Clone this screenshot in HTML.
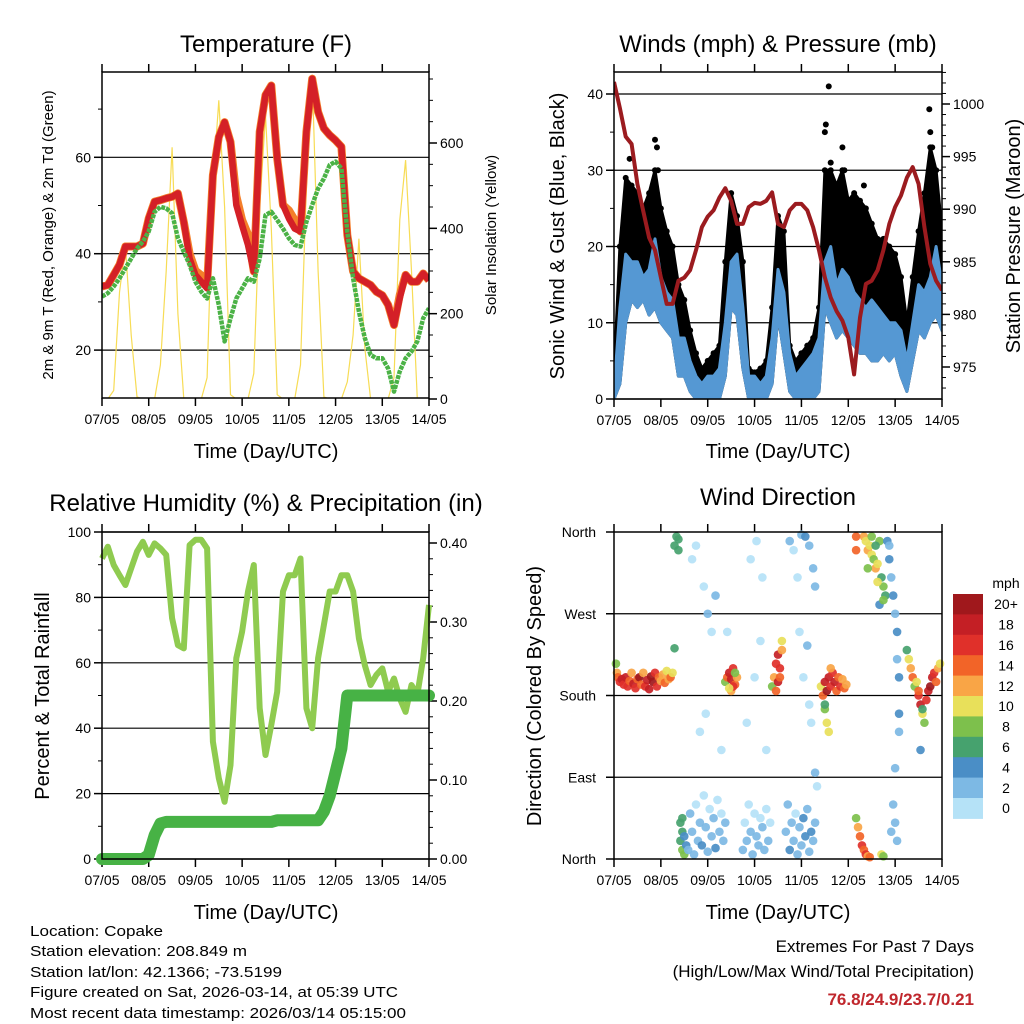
<!DOCTYPE html>
<html><head><meta charset="utf-8">
<style>
html,body{margin:0;padding:0;background:#fff;}
svg{display:block;font-family:"Liberation Sans",Arial,sans-serif;}
</style></head>
<body>
<svg id="chart" width="1024" height="1024" viewBox="0 0 1024 1024" xmlns="http://www.w3.org/2000/svg">
<rect width="1024" height="1024" fill="#fff"/>
<g id="static" font-family="Liberation Sans, Arial, sans-serif" fill="#000">
  <text x="266" y="52" font-size="24" text-anchor="middle">Temperature (F)</text>
  <text x="778" y="52" font-size="24" text-anchor="middle">Winds (mph) &amp; Pressure (mb)</text>
  <text x="266" y="511" font-size="24" text-anchor="middle">Relative Humidity (%) &amp; Precipitation (in)</text>
  <text x="778" y="505" font-size="24" text-anchor="middle">Wind Direction</text>

  <text x="266" y="458" font-size="20" text-anchor="middle">Time (Day/UTC)</text>
  <text x="778" y="458" font-size="20" text-anchor="middle">Time (Day/UTC)</text>
  <text x="266" y="919" font-size="20" text-anchor="middle">Time (Day/UTC)</text>
  <text x="778" y="919" font-size="20" text-anchor="middle">Time (Day/UTC)</text>

  <text transform="translate(53,235) rotate(-90)" font-size="15" text-anchor="middle">2m &amp; 9m T (Red, Orange) &amp; 2m Td (Green)</text>
  <text transform="translate(496,235) rotate(-90)" font-size="15" text-anchor="middle">Solar Insolation (Yellow)</text>
  <text transform="translate(564,236) rotate(-90)" font-size="20" text-anchor="middle">Sonic Wind &amp; Gust (Blue, Black)</text>
  <text transform="translate(1020,236) rotate(-90)" font-size="20" text-anchor="middle">Station Pressure (Maroon)</text>
  <text transform="translate(49,696) rotate(-90)" font-size="20" text-anchor="middle">Percent &amp; Total Rainfall</text>
  <text transform="translate(541,696) rotate(-90)" font-size="20" text-anchor="middle">Direction (Colored By Speed)</text>

  <g font-size="15">
    <text x="30" y="936" textLength="133" lengthAdjust="spacingAndGlyphs">Location: Copake</text>
    <text x="30" y="956" textLength="217" lengthAdjust="spacingAndGlyphs">Station elevation: 208.849 m</text>
    <text x="30" y="977" textLength="252" lengthAdjust="spacingAndGlyphs">Station lat/lon: 42.1366; -73.5199</text>
    <text x="30" y="997" textLength="368" lengthAdjust="spacingAndGlyphs">Figure created on Sat, 2026-03-14, at 05:39 UTC</text>
    <text x="30" y="1018" textLength="376" lengthAdjust="spacingAndGlyphs">Most recent data timestamp: 2026/03/14 05:15:00</text>
  </g>
  <g font-size="17" text-anchor="end">
    <text x="974" y="952">Extremes For Past 7 Days</text>
    <text x="974" y="977">(High/Low/Max Wind/Total Precipitation)</text>
    <text x="974" y="1005" fill="#c0272d" font-weight="bold">76.8/24.9/23.7/0.21</text>
  </g>
</g>
<g id="dyn"></g>
</svg>
<script>
// ---------- DATA (3-hourly, hours 0..168) ----------
const dayLabels = ["07/05","08/05","09/05","10/05","11/05","12/05","13/05","14/05"];
const tempRed = [33.2,33.5,35.6,37.7,41.5,41.5,41.5,42.1,47.3,50.8,51.1,51.5,51.8,52.5,46.6,39,35.6,34.2,32.8,56.3,64.2,67.3,63.2,50.1,45.9,41.8,36.3,65.3,72.9,74.9,59.8,50.1,47.3,45.2,44.6,65.3,76.3,69.4,66,64.6,63.5,62.2,43.9,36.3,34.9,34.2,33.5,32.1,31.4,29.4,25.2,30.8,35.6,34.2,34.2,35.9,34.5];
const tempOrange = [33.2,33.5,35.6,37.7,41.5,41.5,41.5,42.1,47.3,50.8,51.1,51.5,51.8,52.5,46.6,40,36.5,35.5,33.5,56.3,64.2,67.3,63.2,52,47,44,36.3,65.3,72.9,74.9,59.8,50.1,49,47,44.6,65.3,76.3,69.4,66,64.6,63.5,62.2,43.9,36.3,34.9,34.2,33.5,32.1,31.4,29.4,25.2,31.5,35.6,34.2,34.2,35.9,34.5];
const dewPoint = [31.1,31.8,33.2,34.9,37,39,41.1,42.5,44.6,48.7,49.7,49.4,48.4,43.2,40.4,37.7,34.2,32.1,30.7,34.9,29.4,21.8,26.6,30.7,32.8,34.9,34.2,39,48,48.7,47,45.2,43.2,41.8,41.5,46.6,50.1,53.5,55.6,58.4,59.1,57.7,44.6,34.9,28,22.5,19,18.3,18.3,16.2,11.4,15.6,18.3,19.7,21.8,26.6,28.7];
const solar = [0,0,20,250,360,150,5,0,0,0,80,300,590,200,0,0,0,0,50,500,700,450,10,0,0,0,60,450,665,400,10,0,0,0,80,500,760,300,5,0,0,0,40,150,376,120,0,0,0,0,50,420,560,300,0,0,0];
const windHi = [1,12,19,18,18,16,17,21,16,14,13,8,8,5,3,2,3,3,4,10,18,19,12,3,3,2,3,8,17,14,6,3,4,5,6,8,18,20,15,17,16,14,13,12,13,12,11,10,10,9,5,10,15,14,16,20,15];
const windLo = [0,2,10,13,12,13,11,12,10,9,8,3,3,1,0,0,0,0,0,3,12,11,4,0,0,0,0,2,11,6,1,0,0,0,0,1,12,10,8,9,8,7,6,6,5,5,6,5,6,3,1,5,9,8,10,11,9];
const gustHi = [3,20,29,28,27,25,27,30,25,22,20,15,13,9,6,4,5,6,7,18,27,24,18,4,3.5,4,5,12,24,22,7,5,6,7,8,12,30,30,28,30,26,27,26,25,23,21,21,20,19,16,10,16,22,27,33,30,22];
const gustOutHours = [8,21,22,22.5,108.5,108,110,111,117,118,128,161.5,162,163];
const gustOutVals = [31.5,34,33,30,36,35,41,31,33,30,28,38,35,33];
const pressure = [1002.1,999.6,996.9,996.2,992.4,989.8,987.3,986.1,983.5,981,981,983.2,983.5,984.2,986.1,988.3,989.3,989.9,991.1,992,990.8,988.6,988.6,990.2,990.6,990.5,990.8,991.6,988.6,988.3,989.9,990.5,990.5,989.9,988.3,986.1,983.5,981.6,980.3,979.4,977.8,974.3,979.7,982.9,983.2,984.2,986.1,988.6,990.2,991.3,993,994,992.4,988.3,984.8,983.2,982.3];
const relHum = [91.9,95.5,89.9,86.8,83.8,88.9,94,97,93,96.5,95,93,73.6,65.4,64.4,96,97.6,97.6,95,35.9,24.7,17.5,28.7,61.4,69.5,81.8,89.9,46.1,31.8,41,51.2,81.8,86.8,86.8,91.9,46.1,40,61.4,71.6,81.8,81.8,86.8,86.8,81.8,67.5,59.3,53.2,56.3,58.3,51.2,55.2,49.1,45,53.2,50.2,61.4,77.7];
const precip = [0,0,0,0,0,0,0,0,0.005,0.03,0.045,0.047,0.047,0.047,0.047,0.047,0.047,0.047,0.047,0.047,0.047,0.047,0.047,0.047,0.047,0.047,0.047,0.047,0.047,0.047,0.049,0.049,0.049,0.049,0.049,0.049,0.049,0.049,0.06,0.08,0.11,0.14,0.207,0.207,0.207,0.207,0.207,0.207,0.207,0.207,0.207,0.207,0.207,0.207,0.207,0.207,0.207];
// wind direction scatter
const dirHours = [1,1.5,2,3,4,5,6,7,8,9,10,11,12,13,14,15,16,17,18,19,20,21,22,23,24,25,26,27,28,29,30,
 31,31,33,32,33, 34,35,35,36,34,36,37,35,
 38,39,40,41,42,43,44,45,46,47,48,49,50,51,52,53,54,55,56,57, 40,42,46,48,50,55,44,52,58,47,
 57,58,59,60,61,62,63,60,61,59,62,
 66,67,68,69,70,71,72,73,74,75,76,77,78,79,80, 70,73,76,72,75,68,78,
 81,82,83,84,85,86,84,83,85,86,
 88,89,90,91,92,93,94,95,96,97,98,99,100,101,102,103, 90,92,94,96,98,100,102,103,95,97,100,99,101,103,104,
 106,107,108,109,110,111,112,113,114,115,116,117,118,119, 108,109,110,108,111,
 124,125,126,127,128,129,130,131,137,138,
 128,129,130,131,132,133,134,135,136,137,138,139,136,138,134,132,124,124,130,135,
 140,141,142,143,144,145,145,146,146,144,143,144,145,142,146,141,
 150,151,152,153,154,155,156,157,158,159,160,161,162,163,164,165,166,167,157,158,156];
const dirDeg = [215,205,200,195,198,192,200,190,196,205,193,188,198,200,192,205,190,197,187,201,195,205,190,200,196,203,194,207,198,200,205,
 232,345,352,355,340, 20,30,10,25,40,5,15,45,
 10,50,30,5,60,20,40,15,70,35,8,55,25,45,12,65,30,50,20,40, 330,345,300,270,250,120,140,290,250,160,
 195,200,205,198,210,192,200,185,190,188,205,
 10,40,20,60,30,5,50,25,15,45,35,10,55,20,40, 330,350,310,200,240,150,120,
 190,200,215,225,210,230,195,185,200,240,
 30,60,10,40,20,50,5,35,15,45,25,55,8,30,20,40, 350,340,310,357,355,345,320,300,250,200,170,235,150,95,80,
 190,180,195,185,200,190,205,195,185,200,190,198,188,192, 165,150,140,170,210,
 45,35,25,15,10,5,3,2,5,3,
 355,350,340,345,335,330,320,325,350,310,300,290,280,285,345,355,355,340,320,305,
 350,330,310,290,270,250,220,160,140,100,60,40,20,30,200,345,
 230,220,210,200,190,195,180,170,160,150,175,185,190,200,205,195,210,215,120,165,185];
const dirSpeed = [8,12,14,16,18,17,19,16,14,12,18,17,15,20,14,12,16,18,19,20,20,17,16,14,13,12,14,10,12,15,10,
 6,6,6,7,6, 7,6,8,5,7,9,5,6,
 3,2,3,2,1,3,2,4,1,3,2,1,3,2,4,1,2,1,3,2, 1,1,1,2,1,1,1,2,1,1,
 8,14,18,19,16,14,12,13,17,10,9,
 2,1,3,1,2,3,1,2,2,1,3,2,1,2,1, 1,1,1,1,1,1,1,
 8,12,16,19,17,12,18,14,15,10,
 3,2,4,2,3,1,2,3,2,4,5,3,2,4,2,3, 2,1,1,2,4,3,2,3,1,1,1,2,1,2,1,
 10,14,18,20,19,17,16,18,15,14,16,13,14,12, 8,10,11,6,12,
 8,12,14,16,14,16,12,15,10,9,
 12,10,13,11,10,8,12,10,9,7,8,6,4,8,6,9,14,15,9,10,
 4,4,3,4,3,4,3,4,3,3,3,2,3,2,4,3,
 6,10,12,14,8,11,16,18,10,8,17,19,20,18,16,14,12,11,4,6,14];
const speedLabels = ["0","2","4","6","8","10","12","14","16","18","20+"];
const speedColors = ["#b5e2f7","#7db9e4","#4a8ec6","#46a26e","#7dc04c","#e8e05a","#f9a546","#f26428","#e0302a","#c41f25","#a0181c"];

// ---------- DRAWING ----------
const NS = "http://www.w3.org/2000/svg";
const dyn = document.getElementById("dyn");
function mk(tag, attrs, parent){
  const e = document.createElementNS(NS, tag);
  for (const k in attrs) e.setAttribute(k, attrs[k]);
  (parent||dyn).appendChild(e);
  return e;
}
const hoursOf = i => i*3;
function xS(x0,x1){ return h => x0 + h/168*(x1-x0); }
function yS(v0,y0,v1,y1){ return v => y0 + (v-v0)/(v1-v0)*(y1-y0); }

function frame(name, x0,x1,y0,y1){
  const g = mk("g",{});
  
  
  const xs = xS(x0,x1);
  for (let d=0; d<=7; d++){
    const x = xs(d*24);
    const t = mk("line",{x1:x,x2:x,y1:y1,y2:y1+8,stroke:"#000","stroke-width":1.5},g);
    
    
    mk("line",{x1:x,x2:x,y1:y0,y2:y0-8,stroke:"#000","stroke-width":1.5},g);
    const lb = mk("text",{x:x,y:y1+26,"font-size":14,"text-anchor":"middle"},g);
    lb.textContent = dayLabels[d];
    
    
  }
  return g;
}
function border(x0,x1,y0,y1){
  const r = mk("rect",{x:x0,y:y0,width:x1-x0,height:y1-y0,fill:"none",stroke:"#000","stroke-width":1.5});
  
  
}
function yTicks(g, vals, ys, x, side, fmt, gridX0, gridX1, grid){
  vals.forEach(v=>{
    const y = ys(v);
    const d = side==="left" ? -8 : 8;
    mk("line",{x1:x,x2:x+d,y1:y,y2:y,stroke:"#000","stroke-width":1.5},g);
    const t = mk("text",{x: side==="left"? x-11 : x+11, y:y+5,"font-size":14,"text-anchor": side==="left"?"end":"start"},g);
    t.textContent = fmt(v);
    
    
    if (grid){
      const gl = mk("line",{x1:gridX0,x2:gridX1,y1:y,y2:y,stroke:"#000","stroke-width":1.2},g);
      
      
    }
  });
}
function minorTicks(g, vals, ys, x, side){
  vals.forEach(v=>{ const y=ys(v); mk("line",{x1:x,x2:x+(side==="left"?-4:4),y1:y,y2:y,stroke:"#000","stroke-width":1},g); });
}
function pathFrom(arr, xs, ys){
  return arr.map((v,i)=>(i?"L":"M")+xs(hoursOf(i)).toFixed(1)+","+ys(v).toFixed(1)).join("");
}
function bandFrom(lo, hi, xs, ys){
  let d = hi.map((v,i)=>(i?"L":"M")+xs(hoursOf(i)).toFixed(1)+","+ys(v).toFixed(1)).join("");
  for (let i=lo.length-1;i>=0;i--) d += "L"+xs(hoursOf(i)).toFixed(1)+","+ys(lo[i]).toFixed(1);
  return d+"Z";
}

// ===== Panel 1: Temperature =====
(function(){
  const x0=102,x1=429,y0=72,y1=398;
  const xs=xS(x0,x1), yT=yS(40,253.7,60,157.3), yR=yS(0,399,600,143);
  const g=frame("temperature",x0,x1,y0,y1);
  const clip = mk("clipPath",{id:"c1"}); mk("rect",{x:x0,y:y0,width:x1-x0,height:y1-y0},clip);
  yTicks(g,[20,40,60],yT,x0,"left",v=>v,x0,x1,true);
  minorTicks(g,[30,50,70],yT,x0,"left");
  yTicks(g,[0,200,400,600],yR,x1,"right",v=>v,0,0,false);
  minorTicks(g,[50,100,150,250,300,350,450,500,550,650,700,750],yR,x1,"right");
  const pg = mk("g",{"clip-path":"url(#c1)"});
  const s = mk("path",{d:pathFrom(solar,xs,yR),fill:"none",stroke:"#f7dc55","stroke-width":1.2},pg);
  
  
  const o = mk("path",{d:pathFrom(tempOrange,xs,yT),fill:"none",stroke:"#f47f2a","stroke-width":8,"stroke-linejoin":"round"},pg);
  
  
  const r = mk("path",{d:pathFrom(tempRed,xs,yT),fill:"none",stroke:"#d42027","stroke-width":6.5,"stroke-linejoin":"round"},pg);
  
  
  const dp = mk("path",{d:pathFrom(dewPoint,xs,yT),fill:"none",stroke:"#4bb246","stroke-width":4.5,"stroke-dasharray":"4 1","stroke-linejoin":"round"},pg);
  
  
  border(x0,x1,y0,y1);
})();

// ===== Panel 2: Winds & Pressure =====
(function(){
  const x0=614,x1=942,y0=72,y1=399;
  const xs=xS(x0,x1), yW=yS(0,399,40,94), yP=yS(975,367,1000,104);
  const g=frame("winds",x0,x1,y0,y1);
  const clip = mk("clipPath",{id:"c2"}); mk("rect",{x:x0,y:y0,width:x1-x0,height:y1-y0},clip);
  yTicks(g,[0,10,20,30,40],yW,x0,"left",v=>v,x0,x1,true);
  minorTicks(g,[5,15,25,35],yW,x0,"left");
  yTicks(g,[975,980,985,990,995,1000],yP,x1,"right",v=>v,0,0,false);
  minorTicks(g,[973,974,976,977,978,979,981,982,983,984,986,987,988,989,991,992,993,994,996,997,998,999,1001,1002,1003],yP,x1,"right");
  const pg = mk("g",{"clip-path":"url(#c2)"});
  const gb = mk("path",{d:bandFrom(windLo,gustHi,xs,yW),fill:"#000",stroke:"#000","stroke-width":3,"stroke-linejoin":"round"},pg);
  
  
  gustHi.forEach((v,i)=>{
    const c = mk("circle",{cx:xs(hoursOf(i)),cy:yW(v),r:3,fill:"#000"},pg);
    
    
  });
  gustOutHours.forEach((h,i)=>{
    const c = mk("circle",{cx:xs(h),cy:yW(gustOutVals[i]),r:3,fill:"#000"},pg);
    
    
  });
  const wb = mk("path",{d:bandFrom(windLo,windHi,xs,yW),fill:"#5598d3",stroke:"#5598d3","stroke-width":3,"stroke-linejoin":"round"},pg);
  
  
  const p = mk("path",{d:pathFrom(pressure,xs,yP),fill:"none",stroke:"#9b1b1f","stroke-width":4,"stroke-linejoin":"round"},pg);
  
  
  border(x0,x1,y0,y1);
})();

// ===== Panel 3: RH & Precip =====
(function(){
  const x0=102,x1=429,y0=532,y1=859;
  const xs=xS(x0,x1), yH=yS(0,859,100,532), yR=yS(0,859,0.4,543);
  const g=frame("humidity",x0,x1,y0,y1);
  const clip = mk("clipPath",{id:"c3"}); mk("rect",{x:x0-8,y:y0,width:x1-x0+16,height:y1-y0+8},clip);
  yTicks(g,[0,20,40,60,80,100],yH,x0,"left",v=>v,x0,x1,true);
  minorTicks(g,[10,30,50,70,90],yH,x0,"left");
  yTicks(g,[0,0.1,0.2,0.3,0.4],yR,x1,"right",v=>v.toFixed(2),0,0,false);
  minorTicks(g,[0.02,0.04,0.06,0.08,0.12,0.14,0.16,0.18,0.22,0.24,0.26,0.28,0.32,0.34,0.36,0.38],yR,x1,"right");
  const pg = mk("g",{"clip-path":"url(#c3)"});
  const rh = mk("path",{d:pathFrom(relHum,xs,yH),fill:"none",stroke:"#8fcb50","stroke-width":6,"stroke-linejoin":"round"},pg);
  
  
  const pr = mk("path",{d:pathFrom(precip,xs,yR),fill:"none",stroke:"#47b245","stroke-width":12,"stroke-linejoin":"round","stroke-linecap":"round"},pg);
  
  
  border(x0,x1,y0,y1);
})();

// ===== Panel 4: Wind Direction =====
(function(){
  const x0=614,x1=942,y0=532,y1=859;
  const xs=xS(x0,x1), yD=yS(0,859,360,532);
  const g=frame("direction",x0,x1,y0,y1);
  const names={0:"North",90:"East",180:"South",270:"West",360:"North"};
  [0,90,180,270,360].forEach(v=>{
    const y=yD(v);
    mk("line",{x1:x0,x2:x0-8,y1:y,y2:y,stroke:"#000","stroke-width":1.5},g);
    const t=mk("text",{x:x0-18,y:y+5,"font-size":14,"text-anchor":"end"},g);
    t.textContent=names[v];
    
    
    if (v>0 && v<360){ mk("line",{x1:x0,x2:x1,y1:y,y2:y,stroke:"#000","stroke-width":1.2},g); }
  });
  const pg = mk("g",{});
  dirHours.forEach((h,i)=>{
    const bin = Math.min(10, Math.floor(dirSpeed[i]/2));
    const c = mk("circle",{cx:xs(h),cy:yD(dirDeg[i]),r:4.3,fill:speedColors[bin],"fill-opacity":0.92},pg);
    
    
  });
  border(x0,x1,y0,y1);
  // colorbar
  const cb = mk("g",{});
  
  
  const top=594, h=20.4;
  const u = mk("text",{x:1006,y:588,"font-size":14,"text-anchor":"middle"},cb);
  u.textContent="mph";
  
  
  for (let k=10;k>=0;k--){
    const y = top + (10-k)*h;
    const r = mk("rect",{x:953,y:y,width:30,height:h+0.5,fill:speedColors[k]},cb);
    
    
    const t = mk("text",{x:1006,y:y+h/2+5,"font-size":14,"text-anchor":"middle"},cb);
    t.textContent = speedLabels[k];
    
    
  }
})();
</script>
</body></html>
